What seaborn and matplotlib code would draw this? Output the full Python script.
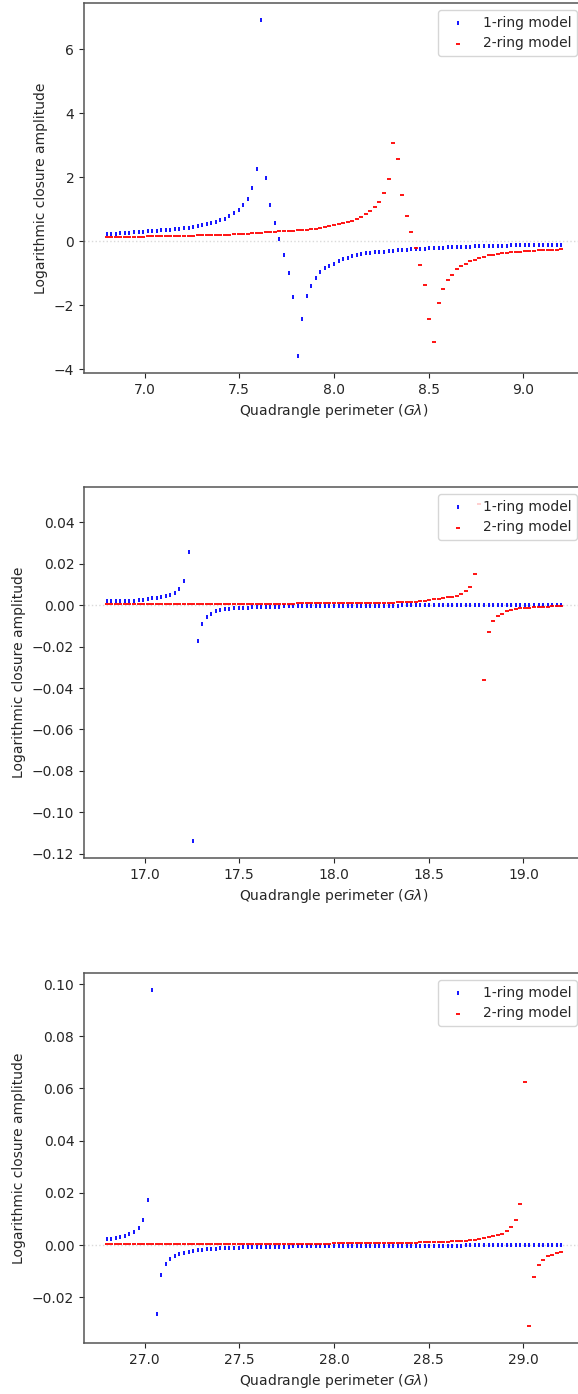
import numpy as np
import pandas as pd
import matplotlib
matplotlib.use("Agg")
import matplotlib.pyplot as plt
import seaborn as sns

sns.set_style("ticks")
plt.rcParams["font.family"] = ["DejaVu Sans"]

# ---------------- data ----------------
n_points = 101
x_starts = [6.8, 16.8, 26.8]
x_stops = [9.2, 19.2, 29.2]
series_labels = ["1-ring model", "2-ring model"]
x_label = "Quadrangle perimeter ($G\\lambda$)"
y_label = "Logarithmic closure amplitude"

# panel 1 (6.8 - 9.2 Glambda)
one_ring_p1 = [
    0.22, 0.22, 0.22, 0.25, 0.25, 0.25, 0.28, 0.29, 0.30, 0.31,
    0.32, 0.32, 0.34, 0.35, 0.36, 0.38, 0.39, 0.41, 0.42, 0.44,
    0.47, 0.50, 0.54, 0.57, 0.60, 0.65, 0.71, 0.78, 0.88, 0.98,
    1.13, 1.32, 1.65, 2.25, 6.92, 1.98, 1.13, 0.57, 0.07, -0.43,
    -0.99, -1.75, -3.59, -2.44, -1.72, -1.39, -1.15, -0.97, -0.85, -0.76,
    -0.70, -0.63, -0.56, -0.51, -0.47, -0.43, -0.40, -0.38, -0.36, -0.34,
    -0.33, -0.32, -0.30, -0.29, -0.28, -0.27, -0.26, -0.25, -0.25, -0.24,
    -0.23, -0.22, -0.21, -0.21, -0.20, -0.19, -0.19, -0.18, -0.18, -0.17,
    -0.17, -0.16, -0.16, -0.15, -0.15, -0.15, -0.14, -0.14, -0.14, -0.13,
    -0.13, -0.13, -0.12, -0.12, -0.12, -0.12, -0.11, -0.11, -0.11, -0.11, -0.11,
]
two_ring_p1 = [
    0.13, 0.13, 0.13, 0.13, 0.13, 0.13, 0.14, 0.14, 0.14, 0.15,
    0.15, 0.15, 0.15, 0.16, 0.16, 0.16, 0.16, 0.17, 0.18, 0.18,
    0.19, 0.19, 0.19, 0.20, 0.20, 0.20, 0.21, 0.21, 0.22, 0.22,
    0.23, 0.24, 0.25, 0.26, 0.27, 0.28, 0.29, 0.30, 0.31, 0.32,
    0.32, 0.33, 0.34, 0.35, 0.36, 0.37, 0.39, 0.41, 0.44, 0.47,
    0.50, 0.53, 0.56, 0.60, 0.64, 0.71, 0.77, 0.84, 0.94, 1.07,
    1.24, 1.50, 1.94, 3.07, 2.57, 1.45, 0.79, 0.29, -0.22, -0.74,
    -1.38, -2.44, -3.15, -1.93, -1.50, -1.21, -1.05, -0.88, -0.78, -0.70,
    -0.62, -0.57, -0.52, -0.48, -0.44, -0.42, -0.40, -0.38, -0.37, -0.35,
    -0.33, -0.32, -0.31, -0.30, -0.29, -0.28, -0.27, -0.27, -0.26, -0.26, -0.25,
]

# panel 2 (16.8 - 19.2 Glambda)
one_ring_p2 = [
    0.0019, 0.0019, 0.0019, 0.0019, 0.0020, 0.0022, 0.0022, 0.0026, 0.0027, 0.0030,
    0.0033, 0.0037, 0.0041, 0.0045, 0.0050, 0.0059, 0.0078, 0.0118, 0.0258, -0.1140,
    -0.0172, -0.0091, -0.0059, -0.0041, -0.0030, -0.0023, -0.0019, -0.0017, -0.0015, -0.0013,
    -0.0013, -0.0011, -0.0010, -0.0009, -0.0009, -0.0008, -0.0008, -0.0007, -0.0007, -0.0006,
    -0.0006, -0.0006, -0.0005, -0.0005, -0.0005, -0.0005, -0.0004, -0.0004, -0.0004, -0.0004,
    -0.0004, -0.0003, -0.0003, -0.0003, -0.0003, -0.0003, -0.0003, -0.0003, -0.0002, -0.0002,
    -0.0002, -0.0002, -0.0002, -0.0002, -0.0002, -0.0001, -0.0001, -0.0001, -0.0001, -0.0001,
    -0.0001, -0.0001, -0.0001, -0.0001, -0.0001, -0.0001, -0.0001, -0.0001, -0.0001, -0.0001,
    -0.0001, -0.0001, -0.0001, -0.0001, -0.0001, -0.0001, -0.0001, -0.0001, -0.0001, -0.0001,
    -0.0001, -0.0001, -0.0001, -0.0001, -0.0001, -0.0001, -0.0001, -0.0001, -0.0001, -0.0001, -0.0001,
]
two_ring_p2 = [
    0.0005, 0.0005, 0.0005, 0.0005, 0.0005, 0.0005, 0.0005, 0.0005, 0.0005, 0.0005,
    0.0005, 0.0005, 0.0005, 0.0005, 0.0005, 0.0005, 0.0005, 0.0005, 0.0005, 0.0005,
    0.0006, 0.0006, 0.0006, 0.0006, 0.0006, 0.0006, 0.0006, 0.0006, 0.0006, 0.0006,
    0.0006, 0.0006, 0.0006, 0.0006, 0.0006, 0.0006, 0.0006, 0.0006, 0.0006, 0.0006,
    0.0008, 0.0008, 0.0009, 0.0009, 0.0009, 0.0009, 0.0009, 0.0009, 0.0009, 0.0009,
    0.0009, 0.0009, 0.0009, 0.0009, 0.0009, 0.0010, 0.0010, 0.0010, 0.0010, 0.0010,
    0.0010, 0.0013, 0.0013, 0.0013, 0.0014, 0.0014, 0.0015, 0.0016, 0.0017, 0.0019,
    0.0021, 0.0025, 0.0028, 0.0031, 0.0034, 0.0038, 0.0041, 0.0046, 0.0053, 0.0067,
    0.0089, 0.0152, 0.0490, -0.0360, -0.0129, -0.0077, -0.0054, -0.0040, -0.0030, -0.0022,
    -0.0019, -0.0015, -0.0013, -0.0011, -0.0010, -0.0009, -0.0008, -0.0007, -0.0006, -0.0005, -0.0005,
]

# panel 3 (26.8 - 29.2 Glambda)
one_ring_p3 = [
    0.0024, 0.0024, 0.0028, 0.0032, 0.0036, 0.0041, 0.0051, 0.0066, 0.0095, 0.0174,
    0.0978, -0.0264, -0.0114, -0.0072, -0.0055, -0.0042, -0.0034, -0.0029, -0.0025, -0.0022,
    -0.0019, -0.0018, -0.0017, -0.0016, -0.0014, -0.0013, -0.0012, -0.0011, -0.0010, -0.0010,
    -0.0009, -0.0009, -0.0008, -0.0008, -0.0008, -0.0007, -0.0007, -0.0007, -0.0006, -0.0006,
    -0.0006, -0.0005, -0.0005, -0.0005, -0.0005, -0.0005, -0.0004, -0.0004, -0.0004, -0.0004,
    -0.0004, -0.0004, -0.0004, -0.0004, -0.0004, -0.0004, -0.0004, -0.0004, -0.0004, -0.0004,
    -0.0004, -0.0004, -0.0004, -0.0004, -0.0004, -0.0004, -0.0004, -0.0004, -0.0004, -0.0004,
    -0.0003, -0.0003, -0.0003, -0.0003, -0.0003, -0.0003, -0.0003, -0.0003, -0.0002, -0.0001,
    -0.0001, -0.0001, -0.0001, -0.0001, -0.0001, -0.0001, -0.0001, -0.0001, -0.0001, -0.0001,
    -0.0001, -0.0001, -0.0001, -0.0001, -0.0001, -0.0001, -0.0001, -0.0001, -0.0001, -0.0001, -0.0001,
]
two_ring_p3 = [
    0.0004, 0.0004, 0.0004, 0.0004, 0.0004, 0.0004, 0.0004, 0.0004, 0.0004, 0.0004,
    0.0004, 0.0004, 0.0004, 0.0004, 0.0004, 0.0004, 0.0004, 0.0004, 0.0004, 0.0004,
    0.0004, 0.0004, 0.0004, 0.0004, 0.0004, 0.0004, 0.0004, 0.0004, 0.0004, 0.0004,
    0.0004, 0.0004, 0.0004, 0.0004, 0.0004, 0.0004, 0.0004, 0.0004, 0.0004, 0.0004,
    0.0004, 0.0004, 0.0004, 0.0004, 0.0004, 0.0004, 0.0004, 0.0004, 0.0004, 0.0004,
    0.0008, 0.0008, 0.0008, 0.0008, 0.0008, 0.0008, 0.0008, 0.0008, 0.0008, 0.0008,
    0.0008, 0.0008, 0.0008, 0.0008, 0.0008, 0.0008, 0.0008, 0.0008, 0.0008, 0.0011,
    0.0011, 0.0011, 0.0011, 0.0011, 0.0012, 0.0013, 0.0014, 0.0015, 0.0016, 0.0017,
    0.0019, 0.0021, 0.0023, 0.0026, 0.0029, 0.0033, 0.0037, 0.0043, 0.0052, 0.0068,
    0.0095, 0.0158, 0.0626, -0.0311, -0.0122, -0.0076, -0.0057, -0.0043, -0.0037, -0.0030, -0.0027,
]

one_ring = [one_ring_p1, one_ring_p2, one_ring_p3]
two_ring = [two_ring_p1, two_ring_p2, two_ring_p3]

# ---------------- layout ----------------
W, H = 578, 1394
fig = plt.figure(figsize=(W / 100, H / 100), dpi=100)
ax_left_px, ax_right_px = 84, 584
panel_px = [(3, 373), (487, 858), (973, 1343)]

for k, (top_px, bot_px) in enumerate(panel_px):
    ax = fig.add_axes([ax_left_px / W, 1 - bot_px / H,
                       (ax_right_px - ax_left_px) / W, (bot_px - top_px) / H])
    x = np.linspace(x_starts[k], x_stops[k], n_points)
    df = pd.DataFrame({"x": x, "one": one_ring[k], "two": two_ring[k]})
    ax.axhline(0, color="#d9d9d9", ls=":", lw=1.0, zorder=0)
    sns.scatterplot(data=df, x="x", y="one", marker="|", color="blue",
                    s=10, linewidth=1.3, label=series_labels[0], ax=ax)
    sns.scatterplot(data=df, x="x", y="two", marker="_", color="red",
                    s=10, linewidth=1.3, label=series_labels[1], ax=ax)
    ax.set_xlabel(x_label, fontsize=10)
    ax.set_ylabel(y_label, fontsize=10)
    ax.tick_params(labelsize=10)
    for sp in ax.spines.values():
        sp.set_color("#555555")
        sp.set_linewidth(1.1)
    ax.legend(loc="upper right", fontsize=10)

fig.savefig("out.png", dpi=100)
